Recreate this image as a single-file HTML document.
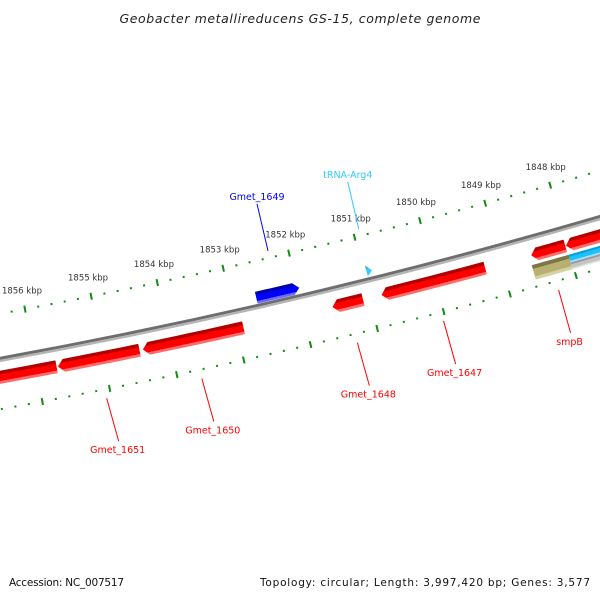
<!DOCTYPE html>
<html><head><meta charset="utf-8"><style>
html,body{margin:0;padding:0;background:#fff;}
svg{display:block;font-family:"DejaVu Sans","Liberation Sans",sans-serif;}
</style></head><body>
<svg id="map" width="600" height="600" viewBox="0 0 600 600" xmlns="http://www.w3.org/2000/svg">
<rect width="600" height="600" fill="#fff"/>
<text x="300" y="23" text-anchor="middle" font-size="12.5" font-style="italic" fill="#222" textLength="361">Geobacter metallireducens GS-15, complete genome</text>
<text x="9" y="586" font-size="10.5" fill="#111" textLength="115">Accession: NC_007517</text>
<text x="590" y="586" text-anchor="end" font-size="10.5" fill="#111" textLength="330">Topology: circular; Length: 3,997,420 bp; Genes: 3,577</text>
<g id="layer"></g>
</svg>
<script>
// ---- data (kbp) ----
const tickStart = 1846;
const tickEnd = 1857;
const majorTickLabels = [1848, 1849, 1850, 1851, 1852, 1853, 1854, 1855, 1856];
const geneNames = ["Gmet_1652", "Gmet_1651", "Gmet_1650", "Gmet_1649", "tRNA-Arg4", "Gmet_1648", "Gmet_1647", "smpB-up", "Gmet_1645", "smpB", "ssrA", "misc"];
const geneStarts = [1855.70, 1854.46, 1852.90, 1851.97, 1850.87, 1851.10, 1849.25, 1848.03, 1847.40, 1848.02, 1847.40, 1847.40];
const geneEnds   = [1857.00, 1855.68, 1854.41, 1852.62, 1850.95, 1851.56, 1850.82, 1848.55, 1848.02, 1848.58, 1848.02, 1848.02];
const geneStrands = [-1, -1, -1, 1, 1, -1, -1, -1, -1, -2, -2, -3];
const geneTypes = ["cds", "cds", "cds", "cds", "trna", "cds", "cds", "cds", "cds", "olive", "tmrna", "grey"];
const labelled = ["Gmet_1651", "Gmet_1650", "Gmet_1649", "tRNA-Arg4", "Gmet_1648", "Gmet_1647", "smpB"];

// ---- geometry ----
const CX = -1067, CY = -5492;
const R_BACK = 5948, R_OUT_TICK = 5903, R_IN_TICK = 5997;
function ang(k) { return (79.34 - (1856 - k) * 0.655) * Math.PI / 180; }
function pt(k, r) { const a = ang(k); return [CX + r * Math.cos(a), CY + r * Math.sin(a)]; }
const NS = "http://www.w3.org/2000/svg";
const layer = document.getElementById("layer");
const defs = document.createElementNS(NS, "defs");
layer.appendChild(defs);
function mk(tag, attrs) { const e = document.createElementNS(NS, tag); for (const k in attrs) e.setAttribute(k, attrs[k]); return e; }
function arcPath(k0, k1, r) { const a = pt(k0, r), b = pt(k1, r); return "M" + a[0] + "," + a[1] + " A" + r + "," + r + " 0 0 0 " + b[0] + "," + b[1]; }

// backbone
const bb1 = mk("path", { d: arcPath(1858, 1845, R_BACK - 1.2), stroke: "#6e6e6e", "stroke-width": 3, fill: "none" });


layer.appendChild(bb1);
const bb2 = mk("path", { d: arcPath(1858, 1845, R_BACK + 1.5), stroke: "#b4b4b4", "stroke-width": 2.2, fill: "none" });


layer.appendChild(bb2);

// ticks
function drawTicks(R, withLabels, ringName) {
  for (let i = 0; tickStart + i * 0.2 <= tickEnd + 1e-6; i++) {
    const k = tickStart + i * 0.2;
    const major = Math.abs(k - Math.round(k)) < 1e-6;
    const h = major ? 3.5 : 1;
    const a = pt(k, R - h), b = pt(k, R + h);
    const t = mk("line", { x1: a[0], y1: a[1], x2: b[0], y2: b[1], stroke: "#138a13", "stroke-width": 2 });
    
    
    layer.appendChild(t);
  }
  if (withLabels) {
    majorTickLabels.forEach(k => {
      const p = pt(k, R - 16);
      const tx = mk("text", { x: p[0], y: p[1], "text-anchor": "middle", "font-size": 8.5, fill: "#333" });
      tx.textContent = k + " kbp";
      
      
      layer.appendChild(tx);
    });
  }
}
drawTicks(R_OUT_TICK, true, "outer-ring");
drawTicks(R_IN_TICK, false, "inner-ring");

// genes
const palette = {
  cds_f: ["#0000a8", "#0000ff", "#6a6aff"],
  cds_r: ["#b00000", "#ff0000", "#ff6a6a"],
  trna: ["#1a9ccc", "#33ccff", "#90e4ff"],
  olive: ["#7d7646", "#b8b070", "#d6d2a2"],
  tmrna: ["#00a0dd", "#1ec0ff", "#9ee2ff"],
  grey: ["#9a9a9a", "#c4c4c4", "#e4e4e4"]
};
function rows(strand) {
  if (strand === 1) return [5933, 5945];
  if (strand === -1) return [5959, 5972];
  if (strand === -2) return [5975, 5990];
  return [5983, 5990];
}
geneNames.forEach((name, i) => {
  const s = geneStarts[i], e = geneEnds[i], st = geneStrands[i], ty = geneTypes[i];
  let [r1, r2] = rows(st);
  if (ty === "tmrna") r2 = 5983;
  const rm = (r1 + r2) / 2;
  const arrow = (ty === "cds" || ty === "trna");
  const dk = Math.min(6 / (rm * 0.655 * Math.PI / 180), (e - s));
  const pts = [];
  const N = 10;
  if (!arrow) {
    for (let j = 0; j <= N; j++) pts.push(pt(s + (e - s) * j / N, r1));
    for (let j = N; j >= 0; j--) pts.push(pt(s + (e - s) * j / N, r2));
  } else if (st < 0) {
    const b = e - dk;
    for (let j = 0; j <= N; j++) pts.push(pt(s + (b - s) * j / N, r1));
    pts.push(pt(e, rm));
    for (let j = N; j >= 0; j--) pts.push(pt(s + (b - s) * j / N, r2));
  } else {
    const b = s + dk;
    for (let j = 0; j <= N; j++) pts.push(pt(b + (e - b) * j / N, r1));
    for (let j = N; j >= 0; j--) pts.push(pt(b + (e - b) * j / N, r2));
    pts.push(pt(s, rm));
  }
  const cols = ty === "cds" ? (st > 0 ? palette.cds_f : palette.cds_r) : palette[ty];
  const mid = (s + e) / 2, g1 = pt(mid, r1), g2 = pt(mid, r2);
  const gid = "g" + i;
  const grad = mk("linearGradient", { id: gid, gradientUnits: "userSpaceOnUse", x1: g1[0], y1: g1[1], x2: g2[0], y2: g2[1] });
  [[0, cols[0]], [0.26, cols[0]], [0.26, cols[1]], [0.78, cols[1]], [0.78, cols[2]], [1, cols[2]]].forEach(sv => {
    grad.appendChild(mk("stop", { offset: sv[0], "stop-color": sv[1] }));
  });
  defs.appendChild(grad);
  const poly = mk("polygon", { points: pts.map(p => p[0].toFixed(2) + "," + p[1].toFixed(2)).join(" "), fill: "url(#" + gid + ")" });
  
  
  layer.appendChild(poly);

  if (labelled.includes(name)) {
    const color = ty === "trna" ? "#33c8ff" : (st > 0 ? "#0000ff" : "#ff0000");
    let a, b, tp;
    if (st > 0) {
      a = pt(mid, 5896); b = [a[0] - 11, a[1] - 47]; tp = [b[0], b[1] - 4];
    } else {
      a = pt(mid, 6006); b = [a[0] + 12, a[1] + 43]; tp = [b[0] - 1, b[1] + 12];
    }
    const ln = mk("line", { x1: a[0], y1: a[1], x2: b[0], y2: b[1], stroke: color, "stroke-width": 1 });
    
    
    layer.appendChild(ln);
    const tx = mk("text", { x: tp[0], y: tp[1], "text-anchor": "middle", "font-size": 9.5, fill: color });
    tx.textContent = name;
    
    
    layer.appendChild(tx);
  }
});
</script>
</body></html>
